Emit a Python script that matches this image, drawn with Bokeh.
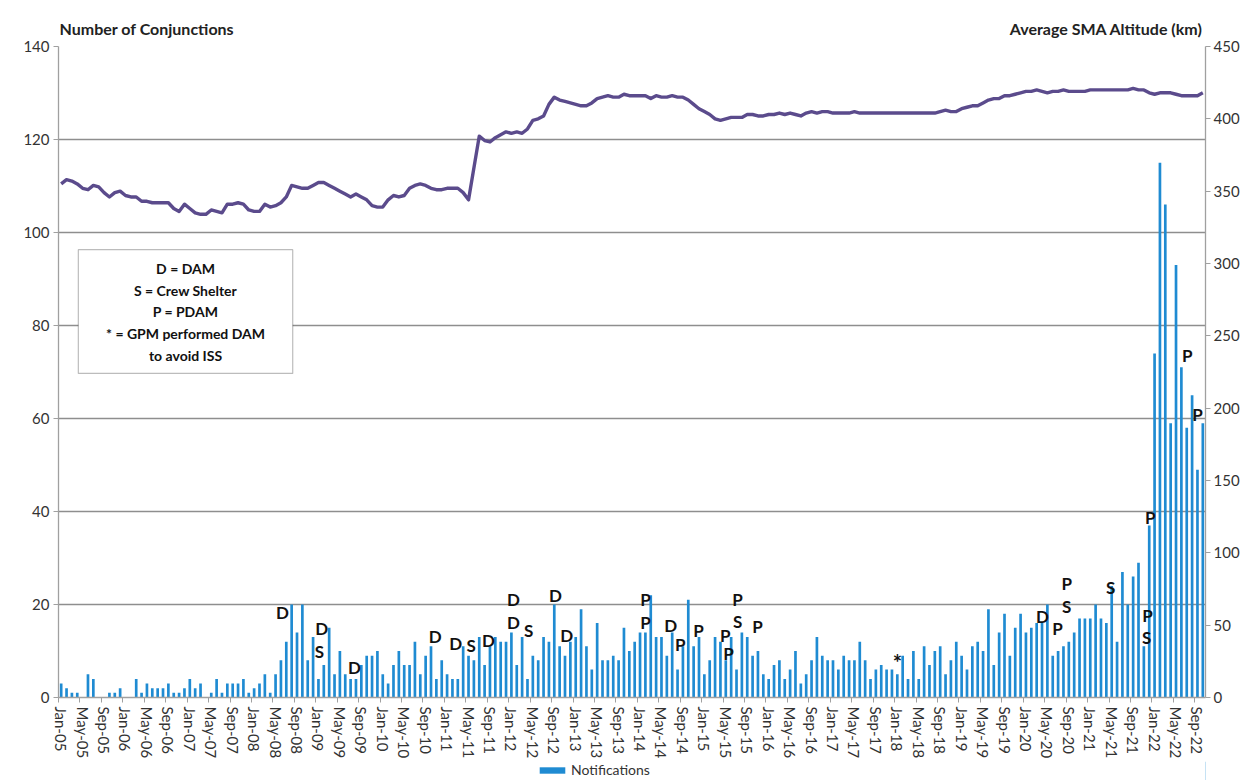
from bokeh.plotting import figure
from bokeh.layouts import column
from bokeh.models import (Range1d, LinearAxis, FixedTicker, Legend, LegendItem,
                          Label, BoxAnnotation, ColumnDataSource)
from bokeh.core.properties import value
from bokeh.embed import file_html
from bokeh.resources import INLINE

# ---------------- data ----------------
month_names = ["Jan", "Feb", "Mar", "Apr", "May", "Jun",
               "Jul", "Aug", "Sep", "Oct", "Nov", "Dec"]
months = [f"{m}-{y:02d}" for y in range(5, 23) for m in month_names][:214]  # Jan-05 .. Oct-22

conjunctions = [
    3, 2, 1, 1, 0, 5, 4, 0, 0, 1, 1, 2,            # 2005
    0, 0, 4, 1, 3, 2, 2, 2, 3, 1, 1, 2,            # 2006
    4, 2, 3, 0, 1, 4, 1, 3, 3, 3, 4, 1,            # 2007
    2, 3, 5, 1, 5, 8, 12, 20, 14, 20, 8, 13,       # 2008
    4, 7, 15, 5, 10, 5, 4, 4, 7, 9, 9, 10,         # 2009
    5, 3, 7, 10, 7, 7, 12, 5, 9, 11, 4, 8,         # 2010
    5, 4, 4, 11, 9, 8, 13, 7, 11, 13, 12, 12,      # 2011
    14, 7, 13, 4, 9, 8, 13, 12, 20, 11, 9, 12,     # 2012
    13, 19, 11, 6, 16, 8, 8, 9, 8, 15, 10, 12,     # 2013
    14, 14, 22, 13, 13, 9, 14, 6, 11, 21, 11, 13,  # 2014
    5, 8, 13, 12, 8, 13, 6, 14, 13, 9, 10, 5,      # 2015
    4, 7, 8, 4, 6, 10, 3, 5, 8, 13, 9, 8,          # 2016
    8, 6, 9, 8, 8, 12, 8, 4, 6, 7, 6, 6,           # 2017
    5, 9, 4, 10, 4, 11, 7, 10, 11, 5, 8, 12,       # 2018
    9, 6, 11, 12, 10, 19, 7, 14, 18, 9, 15, 18,    # 2019
    14, 15, 16, 16, 20, 9, 10, 11, 12, 14, 17, 17, # 2020
    17, 20, 17, 16, 24, 12, 27, 20, 26, 29, 11, 37,# 2021
    74, 115, 106, 59, 93, 71, 58, 65, 49, 59,      # 2022
]

altitude_km = [
    355, 358, 357, 355, 352, 351, 354, 353, 349, 346, 349, 350,
    347, 346, 346, 343, 343, 342, 342, 342, 342, 338, 336, 341,
    338, 335, 334, 334, 337, 336, 335, 341, 341, 342, 341, 337,
    336, 336, 341, 339, 340, 342, 346, 354, 353, 352, 352, 354,
    356, 356, 354, 352, 350, 348, 346, 348, 346, 344, 340, 339,
    339, 344, 347, 346, 347, 352, 354, 355, 354, 352, 351, 351,
    352, 352, 352, 349, 344, 366, 388, 385, 384, 387, 389, 391,
    390, 391, 390, 393, 399, 400, 402, 410, 415, 413, 412, 411,
    410, 409, 409, 411, 414, 415, 416, 415, 415, 417, 416, 416,
    416, 416, 414, 416, 415, 415, 416, 415, 415, 413, 410, 407,
    405, 403, 400, 399, 400, 401, 401, 401, 403, 403, 402, 402,
    403, 403, 404, 403, 404, 403, 402, 404, 405, 404, 405, 405,
    404, 404, 404, 404, 405, 404, 404, 404, 404, 404, 404, 404,
    404, 404, 404, 404, 404, 404, 404, 404, 405, 406, 405, 405,
    407, 408, 409, 409, 411, 413, 414, 414, 416, 416, 417, 418,
    419, 419, 420, 419, 418, 419, 419, 420, 419, 419, 419, 419,
    420, 420, 420, 420, 420, 420, 420, 420, 421, 420, 420, 418,
    417, 418, 418, 418, 417, 416, 416, 416, 416, 418,
]

# event markers (month position, conjunction-axis height, letter)
mark_x = [41.3, 48.6, 48.2, 54.7, 69.8, 73.6, 76.5, 79.7, 84.4, 84.4, 87.2, 92.2,
          94.3, 109.0, 109.0, 113.7, 115.5, 118.9, 123.9, 124.5, 126.2, 126.2, 129.9,
          156.0, 183.1, 185.9, 187.6, 187.6, 195.8, 202.5, 202.7, 203.2, 210.1, 212.0]
mark_y = [18.3, 14.8, 9.9, 6.5, 13.1, 11.6, 11.2, 12.3, 16.1, 21.1, 14.4, 21.9,
          13.3, 16.1, 21.1, 15.5, 11.4, 14.4, 13.3, 9.5, 16.3, 21.1, 15.3,
          7.5, 17.4, 14.8, 19.6, 24.5, 23.7, 12.9, 17.6, 38.7, 73.5, 60.9]
mark_txt = ["D", "D", "S", "D", "D", "D", "S", "D", "D", "D", "S", "D",
            "D", "P", "P", "D", "P", "P", "P", "P", "S", "P", "P",
            "*", "D", "P", "S", "P", "S", "S", "P", "P", "P", "P"]

key_lines = ["D = DAM", "S = Crew Shelter", "P = PDAM",
             "* = GPM performed DAM", "to avoid ISS"]

left_title = "Number of Conjunctions"
right_title = "Average SMA Altitude (km)"

left_ticks = [0, 20, 40, 60, 80, 100, 120, 140]
right_ticks = [0, 50, 100, 150, 200, 250, 300, 350, 400, 450]

# ---------------- figure ----------------
FONT = "Lato"
BAR = "#1f8bd2"
n = len(conjunctions)
idx = list(range(n))
src = ColumnDataSource(dict(x=idx, conj=conjunctions, alt=altitude_km, month=months))
mark_src = ColumnDataSource(dict(x=mark_x, y=mark_y, t=mark_txt,
                                 size=["22px" if t == "*" else "17px" for t in mark_txt]))

p = figure(width=1248, height=761, x_range=Range1d(-0.5, n - 0.5),
           y_range=Range1d(0, 140), output_backend="svg", toolbar_location=None,
           min_border_left=58, min_border_right=43, min_border_top=46,
           min_border_bottom=64)
p.extra_y_ranges = {"alt": Range1d(0, 450)}
p.outline_line_color = None
p.background_fill_color = "white"
p.border_fill_color = "white"

p.xgrid.visible = False
p.ygrid.grid_line_color = "#8e8e8e"
p.ygrid.grid_line_width = 1.3

bars = p.vbar(x="x", top="conj", width=0.5, source=src,
              fill_color=BAR, line_color=None)
p.line(x="x", y="alt", source=src, y_range_name="alt",
       line_color="#5b4b8c", line_width=3.4, line_join="round")

p.text(x="x", y="y", text="t", source=mark_src, text_font=value(FONT),
       text_font_style="bold", text_font_size="size", text_align="center",
       text_baseline="middle", text_color="#111111")

# axes styling
def style_axis(ax):
    ax.axis_line_color = "#a0a0a0"
    ax.axis_line_width = 1.3
    ax.major_tick_line_color = "#a0a0a0"
    ax.minor_tick_line_color = "#a0a0a0"
    ax.major_label_text_font = FONT
    ax.major_label_text_font_size = "15px"
    ax.major_label_text_color = "#333333"
    ax.major_tick_in = 0
    ax.minor_tick_in = 0
    ax.minor_tick_out = 0

ly = p.yaxis[0]
ly.ticker = FixedTicker(ticks=left_ticks)
style_axis(ly)
ly.major_tick_out = 5
ly.major_label_standoff = 4

ry = LinearAxis(y_range_name="alt", ticker=FixedTicker(ticks=right_ticks))
style_axis(ry)
ry.major_tick_out = 5
ry.major_label_standoff = 3
p.add_layout(ry, "right")

xa = p.xaxis[0]
tick_pos = list(range(0, n, 4))
xa.ticker = FixedTicker(ticks=tick_pos, minor_ticks=[t - 0.5 for t in tick_pos])
xa.major_label_overrides = {t: months[t] for t in tick_pos}
style_axis(xa)
xa.major_tick_out = 0
xa.minor_tick_out = 5
xa.major_label_orientation = "vertical"
xa.major_label_standoff = 4

# titles of the two value axes, shown above the frame
ta = LinearAxis(ticker=FixedTicker(ticks=[16, 195]),
                major_label_overrides={16: left_title, 195: right_title})
ta.axis_line_color = None
ta.major_tick_line_color = None
ta.minor_tick_line_color = None
ta.major_label_standoff = 3
ta.major_label_text_font = FONT
ta.major_label_text_font_style = "bold"
ta.major_label_text_font_size = "16px"
ta.major_label_text_color = "#222222"
p.add_layout(ta, "above")

# key box
p.add_layout(BoxAnnotation(left=3.2, right=43.2, bottom=69.7, top=96.3,
                           fill_color="white", fill_alpha=1.0,
                           line_color="#222222", line_width=1.2, level="annotation"))
key_y = [92.3, 87.6, 83.0, 78.3, 73.6]
for t, yy in zip(key_lines, key_y):
    p.add_layout(Label(x=23.2, y=yy, text=t, text_align="center",
                       text_baseline="middle", text_font=FONT,
                       text_font_style="bold", text_font_size="14px",
                       text_color="#111111"))

# legend strip below the chart
p2 = figure(width=1248, height=19, x_range=Range1d(0, 1), y_range=Range1d(0, 1),
            output_backend="svg", toolbar_location=None, min_border=0)
p2.axis.visible = False
p2.grid.visible = False
p2.outline_line_color = None
swatch = p2.vbar(x=[5], top=[1], width=0.5, fill_color=BAR, line_color=None)
legend = Legend(items=[LegendItem(label="Notifications", renderers=[swatch])],
                orientation="horizontal", location=(478, 2),
                border_line_color=None, background_fill_alpha=0,
                glyph_width=32, glyph_height=8, label_text_font=FONT,
                label_text_font_size="14px", label_text_color="#333333",
                margin=0, padding=0, label_standoff=3, label_height=16)
p2.add_layout(legend)

open("out.html", "w").write(file_html(column(p, p2, spacing=0), INLINE))
